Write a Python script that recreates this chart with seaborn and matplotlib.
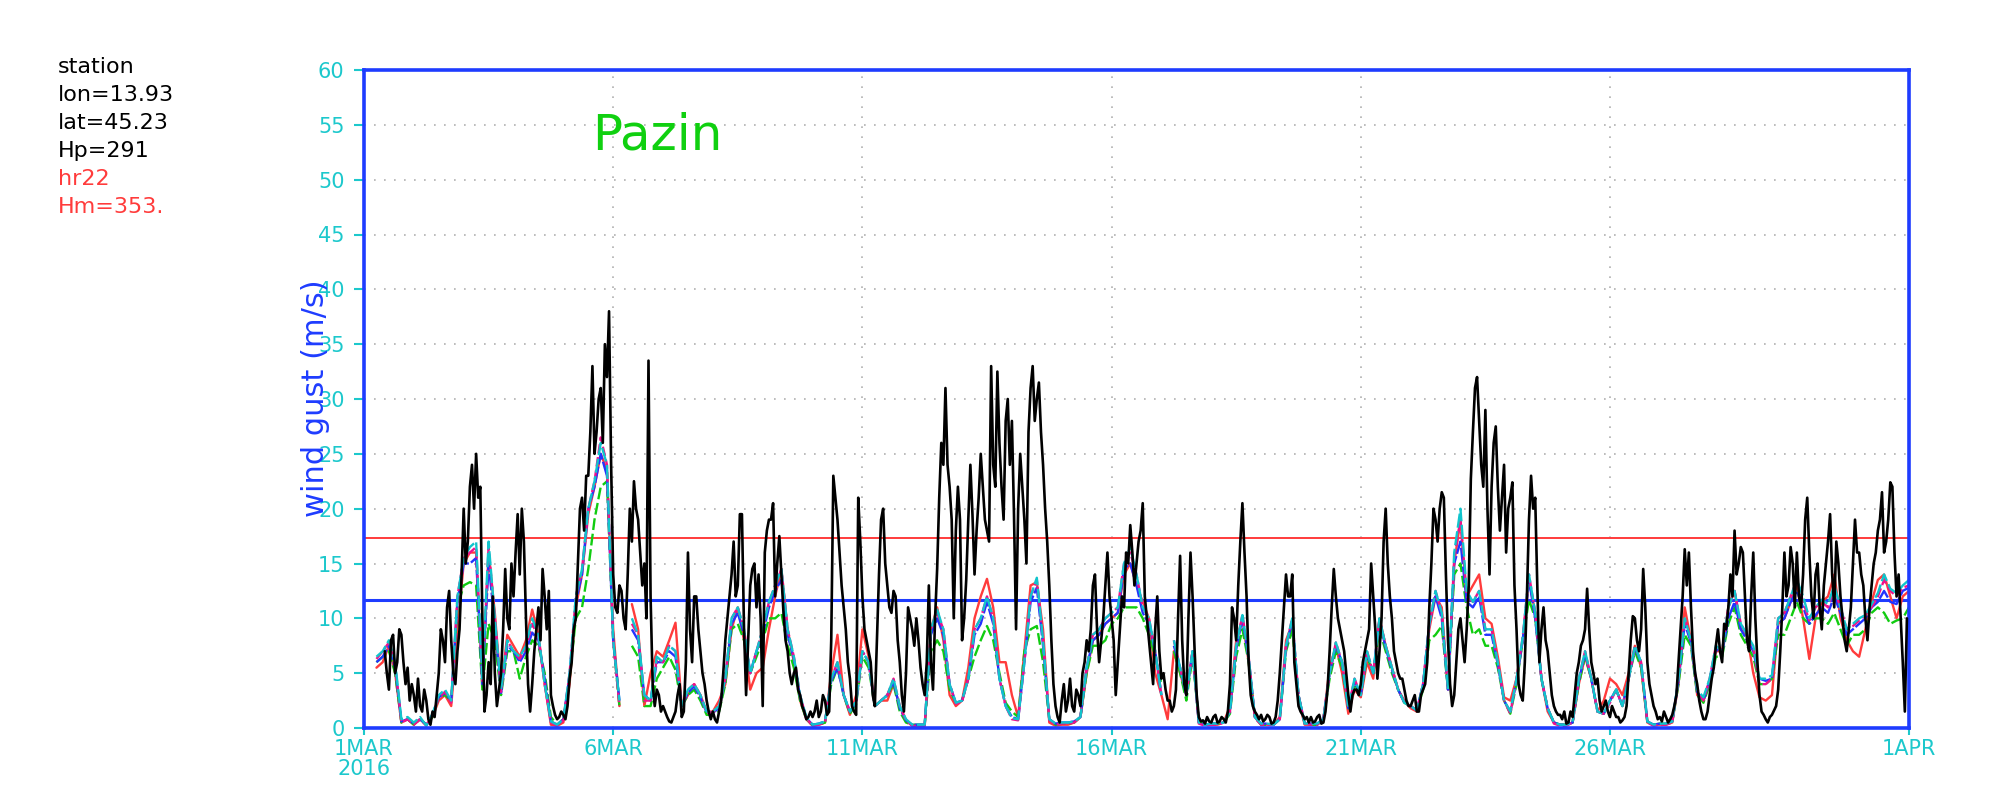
import numpy as np
import pandas as pd
import matplotlib
matplotlib.use("Agg")
import matplotlib.pyplot as plt
import seaborn as sns

nan = np.nan

# station gust observations, hourly, one row per day (1..31 March 2016)
obs_gust = [
    [nan, nan, nan, nan, nan, nan, nan, nan, nan, nan, 7, 5, 3.5, 8, 8.5, 5, 6, 9, 8.5, 6, 4, 5.5, 2.5, 4],
    [3, 1.5, 4.5, 2, 1.5, 3.5, 2.5, 0.8, 0.3, 1.5, 1, 3, 5, 9, 8, 6, 11, 12.5, 8, 5, 4, 7, 9, 14],
    [20, 15, 17, 22, 24, 20, 25, 21, 22, 10, 1.5, 3, 6, 4, 12, 5, 2, 3.5, 5, 9, 14.5, 10, 9, 15],
    [12, 16, 19.5, 14, 20, 17, 10, 4, 1.5, 4, 7, 9, 11, 8, 14.5, 12, 9, 12.5, 3, 2, 1.2, 0.8, 1, 1.5],
    [1.2, 0.8, 2, 4.5, 6, 9, 10, 15, 20, 21, 18, 23, 23, 27, 33, 25, 27, 30, 31, 26, 35, 32, 38, 24],
    [14, 11, 10.5, 13, 12.5, 10, 9, 14, 20, 17, 22.5, 20, 19, 16, 13, 15, 10, 33.5, 12, 4, 2, 3.5, 3, 1.5],
    [2, 1.5, 1, 0.6, 0.5, 1, 1.5, 3, 4, 1, 1.5, 6, 16, 9, 6, 12, 12, 9, 7, 5, 4, 2.5, 1.5, 0.8],
    [1.5, 0.8, 0.5, 1.5, 2.5, 5, 8, 10, 12, 14, 17, 12, 13, 19.5, 19.5, 9, 3, 8, 13, 14.5, 15, 11, 14, 10],
    [2, 16, 18, 19, 19, 20.5, 12, 15, 17.5, 14, 10.5, 8, 7, 5, 4, 5, 5.5, 3.5, 3, 2, 1.5, 0.8, 1, 1.5],
    [1, 1.5, 2.5, 1, 1.5, 3, 2.5, 1.2, 1.5, 8, 23, 21, 19, 16, 13, 11, 9, 6, 4.5, 2, 1.5, 1.2, 21, 17],
    [12, 9, 8, 7, 6, 3, 2, 8, 14, 19, 20, 15, 13, 11, 10.5, 12.5, 12, 8, 6, 3, 1.5, 5, 11, 10],
    [9, 7.5, 10, 8, 5.5, 4, 3, 6, 13, 6, 3.5, 10, 14.5, 21, 26, 24, 31, 24, 22, 19, 10, 18, 22, 19],
    [8, 10, 13.5, 19, 24, 19.5, 14, 18, 21, 25, 22, 19, 18, 17, 33, 24, 22, 32.5, 26, 22, 19, 28, 30, 24],
    [28, 19.5, 9, 20, 25, 22, 19, 15, 27, 31, 33, 28, 30, 31.5, 27, 24, 20, 17, 13, 8, 4, 2, 1, 0.5],
    [2.5, 4, 1.5, 2.5, 4.5, 2, 1.5, 3.5, 3, 2, 5, 6, 8, 7, 9, 13, 14, 9, 6, 8, 10, 13, 16, 12],
    [10, 8, 3, 6, 9, 12, 11, 16, 15, 18.5, 16, 13, 15, 17, 18, 20.5, 12, 10, 8, 6, 4, 9, 12, 7],
    [4.5, 5, 3.5, 2.5, 2.5, 1.5, 2, 3.5, 10, 15.7, 8, 4, 3, 10, 16, 12, 7, 3, 1, 0.6, 0.7, 0.4, 1, 0.6],
    [0.5, 1, 1.2, 0.5, 0.6, 1, 0.8, 0.5, 1.5, 4, 11, 10, 8, 13, 17, 20.5, 16, 12, 6, 3, 2, 1.5, 1.2, 0.8],
    [1.2, 0.6, 0.8, 1.2, 1, 0.4, 0.5, 1, 2.5, 5, 8, 11, 14, 12, 12, 14, 6, 4, 2, 1.5, 1.2, 0.8, 1, 0.5],
    [1, 0.5, 0.6, 1, 1.2, 0.4, 0.5, 1.5, 3.5, 7, 11, 14.5, 12, 10, 9, 8, 7, 5, 3, 1.5, 3, 3.5, 3.5, 3],
    [4, 6, 7, 8, 9, 15, 12, 9, 4.5, 7, 10, 17, 20, 15, 12, 10, 7, 6, 5, 4.5, 4.5, 3.5, 2.5, 2],
    [2, 2.5, 3, 1.5, 1.5, 3, 3.5, 4, 6, 11, 15, 20, 19, 17, 20, 21.5, 21, 14, 8, 4, 2, 3, 6, 9],
    [10, 8, 6, 9, 13, 22.7, 27, 31, 32, 28, 24, 22, 29, 20, 14, 22, 26, 27.5, 22, 18, 21, 24, 16, 20],
    [21, 22.4, 13, 9, 4, 3, 2.5, 6, 12, 19, 23, 20, 21, 13, 6, 9, 11, 8, 7, 5, 3, 2, 1.5, 1.2],
    [1.2, 0.8, 1.5, 0.4, 0.5, 1.5, 1, 3, 5, 6, 7.5, 8, 9, 12.7, 9, 6, 5, 4, 4.5, 2.5, 1.5, 2, 2.5, 1.5],
    [1, 2, 1.5, 1, 1, 0.5, 0.7, 1, 2, 5, 8, 10.2, 10, 8, 7, 9, 14.5, 11, 6, 4, 3, 2, 1.5, 0.8],
    [1, 0.6, 1.5, 1, 0.5, 0.8, 1.2, 2, 3, 6, 9, 12, 16.3, 13, 16, 11, 7, 5, 4, 2.5, 1.5, 0.8, 0.8, 1.5],
    [3, 4.5, 5.5, 7.5, 9, 7, 6, 9.5, 9, 11, 14, 12, 18, 14, 15, 16.5, 16, 12, 8, 7, 12, 16, 10, 6],
    [3, 1.5, 1.2, 0.8, 0.5, 1, 1.2, 1.6, 2, 3.5, 7, 11, 16, 12, 13, 16.5, 15, 11, 16, 12, 11, 14, 19, 21],
    [16, 12, 10, 14, 15, 11, 9, 13, 15, 17, 19.5, 14, 11, 17, 15, 12, 10, 8, 7, 9, 11, 15, 19, 16],
    [16, 14, 13, 10, 8, 11, 13, 15, 16, 18, 19, 21.5, 16, 17, 19, 22.4, 22, 16, 12, 14, 10, 6, 1.5, 10],
]

# model gusts, every 3 hours, one row per day, plus 1 Apr 00 UTC
red_gust = [
    [nan, nan, 5.5, 6, 7.5, 5, 0.5, 0.8],
    [0.3, 0.8, 0.3, 1, 2.5, 3, 2, 9],
    [15, 16, 16, 4, 16, 10.5, 3.5, 8.5],
    [7.5, 6.5, 8, 10.8, 8.5, 4, 0.3, 0.2],
    [0.5, 4, 11, 14, 19.5, 22, 25, 23.5],
    [9, 2, nan, 11.3, 9, 2, 5, 7],
    [6.5, 8, 9.6, 2, 3, 4, 3, 1.5],
    [1.5, 2.5, 4, 9, 11, 8, 3.5, 5],
    [5.5, 9, 12, 14.5, 9, 6, 2.5, 0.8],
    [0.2, 0.3, 0.5, 5, 8.5, 3, 1.2, 3],
    [9, 6.5, 2, 2.5, 2.5, 4, 2, 0.7],
    [0.2, 0.2, 0.2, 9, 11, 8, 3, 2],
    [2.5, 5.5, 10, 12, 13.6, 11, 6, 6],
    [3, 1, 7, 13, 13.3, 9, 0.5, 0.2],
    [0.3, 0.3, 0.5, 1, 5, 8, 8.5, 9.5],
    [10, 10.5, 14, 15, 13, 11.5, 10, 5],
    [3, 0.8, 7, 5, 3, 7, 0.5, 0.3],
    [0.3, 0.3, 0.5, 2, 8, 10, 6, 1],
    [0.3, 0.3, 0.3, 1, 8, 9.5, 2.5, 0.3],
    [0.3, 0.3, 0.8, 5.5, 7.5, 5, 1.3, 3.5],
    [2.8, 6, 4.5, 10, 7.5, 5.5, 3.5, 2.5],
    [1.8, 1.5, 4, 9, 12, 11, 3.5, 15],
    [19, 12, 13, 14, 10, 9.5, 6.5, 2.8],
    [2.5, 4.5, 8, 13.5, 10.5, 4.5, 1.5, 0.5],
    [0.3, 0.3, 0.5, 4, 6.5, 4.5, 1.5, 2.5],
    [4.5, 4, 3, 5, 7.5, 5.5, 0.5, 0.3],
    [0.3, 0.3, 0.5, 4, 11, 8, 3, 2.5],
    [4, 7, 7, 11, 12.5, 9, 8.5, 5],
    [2.8, 2.5, 3, 9.5, 10, 11.5, 13, 10],
    [6.3, 10, 11.5, 12, 14, 10, 8, 7],
    [6.5, 9, 11.5, 13.5, 14, 12, 10, 12],
    [12.5],
]

green_gust = [
    [nan, nan, 6, 6.5, 7, 5, 0.5, 0.8],
    [0.3, 0.8, 0.3, 1, 2.8, 3, 2.5, 11],
    [13, 13.3, 13, 3.5, 9.5, 8, 3, 7],
    [7, 4.5, 6.5, 8, 7.5, 5, 1, 0.3],
    [0.8, 4.5, 10, 11, 14.5, 19, 22, 22.5],
    [8, 2, nan, 7.5, 6.5, 2, 2, 4.5],
    [5.5, 6.5, 5.3, 2, 3, 3.5, 2.5, 1.2],
    [1.2, 1.5, 4, 9, 9.5, 8, 5, 6.5],
    [8, 10, 10, 10.5, 7.5, 5.5, 2.5, 0.8],
    [0.3, 0.3, 0.5, 4, 5.5, 3, 1.3, 2.2],
    [6.5, 5.5, 2, 2.5, 3, 4, 1.5, 0.5],
    [0.3, 0.3, 0.3, 7, 8, 7, 3.5, 2.3],
    [2.5, 4.5, 6.5, 8, 9.3, 8, 5, 2.3],
    [1.5, 1, 7, 9, 9.3, 6, 0.8, 0.3],
    [0.4, 0.4, 0.5, 1, 5, 7.5, 7.5, 8],
    [9.5, 10, 11, 11, 11, 10, 8.5, 6.5],
    [4, nan, 7, 5, 2.5, 6.5, 0.6, 0.3],
    [0.4, 0.4, 0.5, 1.3, 6.5, 9, 6, 1],
    [0.3, 0.3, 0.3, 0.8, 7, 9, 3, 0.4],
    [0.3, 0.3, 0.8, 4.5, 7, 5.5, 1.8, 4],
    [3, 6.5, 5, 9, 7, 5, 3.5, 2.3],
    [2, 1.6, 3.5, 8, 8.5, 9.3, 3.5, 14],
    [15, 11, 8.5, 9, 7.5, 7.5, 5.5, 2.5],
    [1.3, 4, 8, 11.7, 10, 4.5, 1.8, 0.5],
    [0.3, 0.3, 0.5, 4, 6.5, 4.5, 1.5, 1.3],
    [2.5, 3.5, 2, 4.5, 7, 5.5, 0.6, 0.3],
    [0.4, 0.4, 0.6, 4, 8.5, 7.5, 3, 2.3],
    [4, 6.5, 6.5, 9.5, 11, 8.5, 7.5, 6.5],
    [4, 4, 4.5, 8.5, 8.5, 10, 11.5, 10],
    [9.5, 10, 10, 9.5, 10.5, 9, 7.5, 8.5],
    [8.5, 9, 10.5, 11, 10.5, 9.5, 9.8, 10],
    [11],
]

blue_gust = [
    [nan, nan, 6, 6.5, 7.5, 5.5, 0.6, 0.8],
    [0.4, 0.8, 0.3, 1.2, 2.8, 3.2, 2.5, 11.5],
    [15, 15, 15.5, 4, 15, 9.5, 3.2, 7.5],
    [7, 6, 7, 8.7, 8, 4.5, 0.6, 0.3],
    [0.8, 4.8, 11.5, 14, 20, 22, 25, 23],
    [8, 2.5, nan, 9, 8, 3, 2.5, 6],
    [6, 7, 6.5, 2, 3.2, 3.8, 2.8, 1.4],
    [1.4, 1.8, 4.5, 9.5, 10.5, 8.5, 5, 7],
    [8.5, 11, 12.5, 13.5, 8.5, 6.3, 2.8, 0.9],
    [0.3, 0.4, 0.6, 4.3, 5.5, 3, 1.5, 2.3],
    [7, 6, 2, 2.5, 3, 4.2, 1.8, 0.7],
    [0.3, 0.3, 0.3, 8.5, 10, 8.5, 4, 2.3],
    [2.5, 4.5, 8.5, 9.5, 11.5, 9.5, 4.5, 2],
    [1, 0.8, 6, 11.5, 12.8, 7.5, 0.8, 0.4],
    [0.5, 0.5, 0.6, 1, 5.5, 8, 8.5, 9.5],
    [10, 10.5, 14.5, 15, 13, 10.5, 9.5, 7],
    [3, nan, 7.5, 5.5, 3, 7, 0.5, 0.3],
    [0.4, 0.4, 0.5, 1.5, 7.2, 10, 6.3, 1],
    [0.4, 0.4, 0.3, 0.8, 7.3, 9.8, 3, 0.4],
    [0.4, 0.4, 0.8, 5, 7.5, 6, 1.8, 4.3],
    [3, 6.8, 5, 9.8, 7.3, 5.3, 3.5, 2.3],
    [2, 1.6, 4, 9.5, 12, 10, 3.5, 15],
    [17, 11.5, 11, 12, 8.5, 8.5, 5.8, 2.5],
    [1.5, 4.3, 8, 13.5, 10, 4.5, 1.8, 0.5],
    [0.3, 0.3, 0.5, 4.3, 6.8, 4.5, 1.5, 1.3],
    [2.5, 3.5, 2, 4.5, 7.3, 6, 0.6, 0.3],
    [0.4, 0.4, 0.6, 4.3, 9.5, 7.8, 3.3, 2.5],
    [4.3, 7.2, 6.8, 10, 11.5, 9, 8, 7],
    [4.5, 4.3, 4.5, 9.5, 10, 11.5, 12.5, 11],
    [9.5, 10.3, 11, 10.5, 12, 10.5, 8.5, 9],
    [9.5, 10, 11, 11.5, 12.5, 11.5, 11.3, 12.5],
    [12.8],
]

magenta_gust = [
    [nan, nan, 6.3, 7, 7.8, 5.8, 0.5, 0.8],
    [0.3, 0.8, 0.2, 1.2, 2.8, 3.3, 2.3, 12],
    [15.5, 16, 16.5, 4.3, 16.5, 10, 3.3, 8],
    [7, 6.3, 7.3, 9.5, 8.3, 4, 0.5, 0.2],
    [0.7, 5, 12, 14.5, 20, 22.5, 26.5, 24],
    [8, 2, nan, 9.5, 8.5, 2.5, 2.5, 6.3],
    [6, 7.5, 7, 2, 3.5, 4, 3, 1.4],
    [1.4, 2, 4.5, 10, 11, 9, 5, 7],
    [9, 11.5, 13, 14.5, 9, 6.5, 3, 0.9],
    [0.2, 0.3, 0.5, 4.5, 6, 3, 1.5, 2.5],
    [7, 6, 2, 2.5, 3, 4.5, 2, 0.7],
    [0.2, 0.2, 0.2, 9, 10.5, 9, 4, 2.2],
    [2.4, 4.5, 9, 10, 12, 10, 4.5, 2],
    [0.8, 0.7, 6, 12, 13.5, 8, 0.7, 0.3],
    [0.4, 0.4, 0.5, 1, 5.5, 8.5, 9, 10],
    [10.5, 11, 15, 16, 14, 11, 10, 7],
    [3, nan, 8, 5.5, 3, 7, 0.4, 0.2],
    [0.3, 0.3, 0.5, 1.5, 7.5, 10.3, 6.5, 0.9],
    [0.3, 0.3, 0.3, 0.8, 7.5, 10, 3, 0.4],
    [0.3, 0.3, 0.8, 5, 7.8, 6, 1.8, 4.5],
    [3, 7, 5, 10, 7.5, 5.5, 3.5, 2.3],
    [2, 1.6, 4, 9.5, 12.5, 10.5, 3.5, 15.5],
    [19, 12, 11.5, 12.5, 9, 9, 6, 2.5],
    [1.3, 4.5, 8.3, 14, 10.5, 4.5, 1.8, 0.4],
    [0.2, 0.2, 0.5, 4.5, 7, 4.5, 1.5, 1.3],
    [2.3, 3.5, 2, 4.5, 7.5, 6, 0.5, 0.2],
    [0.3, 0.3, 0.5, 4.5, 10, 8, 3.5, 2.5],
    [4.5, 7.5, 7, 11, 12.5, 9.5, 8.5, 7.3],
    [4, 4, 4.5, 10, 10.5, 12, 13.5, 11.5],
    [9.8, 11, 11.5, 11, 12.8, 11, 9, 9.3],
    [9.8, 10.3, 11, 12, 13.5, 12.5, 12, 12.8],
    [13],
]

cyan_gust = [
    [nan, nan, 6.5, 7, 8, 6, 0.8, 1],
    [0.5, 1, 0.2, 1.3, 3, 3.5, 2.5, 12],
    [15.5, 16.5, 17, 4.5, 17, 10, 3.5, 8],
    [7, 6.5, 7.5, 10, 8.5, 4, 0.6, 0.3],
    [0.8, 5, 12, 14.5, 20, 22.5, 26, 24],
    [8, 2.5, nan, 10, 8.5, 3, 2.5, 6.5],
    [6, 7.5, 7, 2, 3.5, 4, 3, 1.5],
    [1.5, 2, 4.5, 10, 11, 9, 5, 7],
    [9, 11.5, 13, 14.5, 9, 6.5, 3, 1],
    [0.3, 0.4, 0.6, 4.5, 6, 3, 1.5, 2.5],
    [7, 6, 2, 2.5, 3, 4.5, 2, 0.8],
    [0.3, 0.3, 0.3, 9, 10.8, 9, 4, 2.3],
    [2.5, 4.5, 9, 10, 12, 10, 4.5, 2],
    [0.9, 0.8, 6, 12, 13.7, 8, 0.8, 0.4],
    [0.5, 0.5, 0.6, 1, 5.5, 8.5, 9, 10],
    [10.5, 11, 15, 16.5, 14, 11, 10, 7],
    [3, nan, 8, 5.5, 3, 7, 0.5, 0.3],
    [0.4, 0.4, 0.5, 1.5, 7.5, 10.3, 6.5, 1],
    [0.4, 0.4, 0.3, 0.8, 7.5, 10, 3, 0.4],
    [0.4, 0.4, 0.8, 5, 7.8, 6, 1.8, 4.5],
    [3, 7, 5, 10, 7.5, 5.5, 3.5, 2.3],
    [2, 1.6, 4, 9.5, 12.5, 10.5, 3.5, 16],
    [20, 12.5, 11.5, 12.5, 9, 9, 6, 2.5],
    [1.5, 4.5, 8.3, 14, 10.5, 4.5, 1.8, 0.5],
    [0.3, 0.3, 0.5, 4.5, 7, 4.5, 1.5, 1.3],
    [2.5, 3.5, 2, 4.5, 7.5, 6, 0.6, 0.3],
    [0.4, 0.4, 0.6, 4.5, 10, 8, 3.5, 2.8],
    [4.5, 7.5, 7, 11, 12.5, 9.5, 8.5, 7.5],
    [4.5, 4.5, 4.8, 10, 10.5, 12, 13.5, 12],
    [10, 11, 11.7, 11.3, 13, 11, 9, 9.5],
    [10, 10.3, 11.3, 12.3, 14, 12.7, 12.3, 13],
    [13.5],
]

thresh_red = 17.3
thresh_blue = 11.7

x_ticks = [0, 5, 10, 15, 20, 25, 31]
x_labels = ["1MAR\n2016", "6MAR", "11MAR", "16MAR", "21MAR", "26MAR", "1APR"]
y_ticks = list(range(0, 61, 5))

info_lines = [("station", "black"), ("lon=13.93", "black"), ("lat=45.23", "black"),
              ("Hp=291", "black"), ("hr22", "#ff3b3b"), ("Hm=353.", "#ff3b3b")]

CYAN = "#1cc8cc"
FRAME = "#1e3cff"


def to_frame(name, rows, step_h):
    v = np.array([x for r in rows for x in r], dtype=float)
    t = np.arange(len(v)) * step_h / 24.0
    seg = np.cumsum(np.isnan(v))
    d = pd.DataFrame({"t": t, "v": v, "model": name,
                      "seg": [f"{name}{s}" for s in seg]})
    return d.dropna()


models = pd.concat([
    to_frame("hr22", red_gust, 3),
    to_frame("green", green_gust, 3),
    to_frame("blue", blue_gust, 3),
    to_frame("magenta", magenta_gust, 3),
    to_frame("cyan", cyan_gust, 3),
])
obs = to_frame("obs", obs_gust, 1)

sns.set_theme(style="ticks")
plt.rcParams["font.family"] = ["DejaVu Sans"]

fig = plt.figure(figsize=(20, 8), dpi=100)
ax = fig.add_axes([0.182, 0.09, 0.7725, 0.8225])

pal = {"hr22": "#ff3b3b", "green": "#10cc10", "blue": "#2233ff",
       "magenta": "#f0108c", "cyan": "#10c4cc"}
dash = {"hr22": "", "green": (5, 1.6), "blue": (7, 1),
        "magenta": (4, 1.5), "cyan": (6, 1.5)}

ax.axhline(thresh_red, color="#ff3b3b", lw=1.4, zorder=1)
ax.axhline(thresh_blue, color=FRAME, lw=2.2, zorder=1)

sns.lineplot(data=models, x="t", y="v", hue="model", style="model",
             hue_order=list(pal), style_order=list(pal),
             units="seg", estimator=None, sort=False,
             palette=pal, dashes=dash, linewidth=1.7, legend=False, ax=ax, zorder=2)
sns.lineplot(data=obs, x="t", y="v", units="seg", estimator=None, sort=False,
             color="black", linewidth=1.9, ax=ax, zorder=3)

ax.set_xlim(0, 31)
ax.set_ylim(0, 60)
ax.set_xticks(x_ticks)
ax.set_xticklabels(x_labels, linespacing=1.0)
ax.set_yticks(y_ticks)
ax.set_yticklabels([str(y) for y in y_ticks])
ax.set_xlabel("")
ax.set_ylabel("")

ax.grid(True, color="#b0b0b0", linestyle=(0, (1, 5)), linewidth=1.2)
for s in ax.spines.values():
    s.set_color(FRAME)
    s.set_linewidth(2.6)
ax.tick_params(axis="y", colors=CYAN, length=7, width=1.5, pad=7, labelsize=15)
ax.tick_params(axis="x", colors=CYAN, length=5, width=1.5, pad=3, labelsize=15)

fig.text(0.158, 0.502, "wind gust (m/s)", rotation=90, color=FRAME,
         fontsize=22, ha="center", va="center",
         family=["Liberation Sans Narrow", "DejaVu Sans"])

ax.text(0.19, 0.9, "Pazin", transform=ax.transAxes, color="#10d010",
        fontsize=36, ha="center", va="center")

for i, (txt, col) in enumerate(info_lines):
    fig.text(0.029, 1 - (67 + 28 * i) / 800, txt, color=col, fontsize=16,
             ha="left", va="center")

fig.savefig("out.png", dpi=100)
